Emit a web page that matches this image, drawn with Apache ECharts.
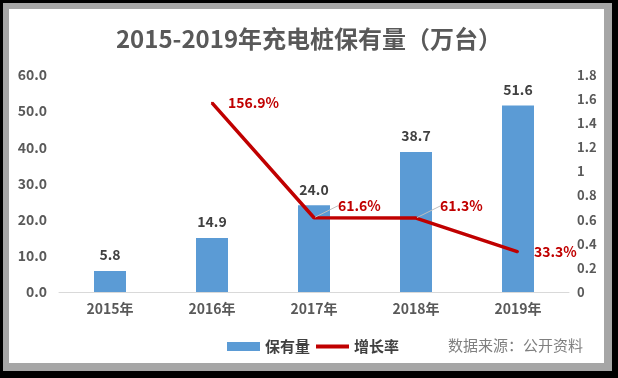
<!DOCTYPE html>
<html><head><meta charset="utf-8">
<script src="https://cdn.jsdelivr.net/npm/echarts@6/dist/echarts.min.js"></script>
<style>html,body{margin:0;padding:0;background:#000;}#c{width:618px;height:378px;}</style>
</head><body><div id="c"></div>
<script>
const years = ['2015年','2016年','2017年','2018年','2019年'];
const stock = [5.8, 14.9, 24.0, 38.7, 51.6];
const growth = [null, 1.569, 0.616, 0.613, 0.333];
const titleText = '2015-2019年充电桩保有量（万台）';
const sourceText = '数据来源：公开资料';

const font = '"Noto Sans CJK SC", "Noto Sans", sans-serif';
const leaderIdx = [2, 3];
const growthData = growth.map((v, i) =>
  leaderIdx.includes(i) ? {value: v} : {value: v, labelLine: {show: false}});

const chart = echarts.init(document.getElementById('c'), null, {renderer:'canvas'});
chart.setOption({
  backgroundColor: '#000',
  animation: false,
  graphic: [
    {type:'rect', shape:{x:3,y:3,width:609,height:368}, style:{fill:'#a6a6a6'}, z:-10},
    {type:'rect', shape:{x:9,y:9,width:595,height:354}, style:{fill:'#fff'}, z:-9},
    {type:'text', left:448, top:338, style:{text:sourceText, fill:'#7f7f7f', font:'15px ' + font}}
  ],
  title: {
    text: titleText, left: 'center', top: 22,
    textStyle: {fontFamily: font, fontSize: 24, fontWeight: 'bold', color: '#595959'}
  },
  legend: {
    left: 222, top: 334, itemGap: 6, itemWidth: 33, itemHeight: 9,
    textStyle: {fontFamily: font, fontSize: 15, fontWeight: 'bold', color: '#404040'},
    data: [
      {name:'保有量', icon:'rect'},
      {name:'增长率', icon:'path://M0,0 L33,0 L33,4 L0,4 Z'}
    ]
  },
  grid: {left: 59, right: 49, top: 75, bottom: 86},
  xAxis: {
    type: 'category', data: years,
    axisLine: {lineStyle: {color: '#d9d9d9'}},
    axisTick: {show: false},
    axisLabel: {fontFamily: font, fontSize: 14, fontWeight: 'bold', color: '#595959', margin: 10}
  },
  yAxis: [
    {type:'value', min:0, max:60, interval:10, splitLine:{show:false},
     axisLabel:{formatter: v => v.toFixed(1), fontFamily: font, fontSize: 14, fontWeight:'bold', color:'#595959', margin: 12}},
    {type:'value', min:0, max:1.8, interval:0.2, splitLine:{show:false},
     axisLabel:{formatter: v => String(Math.round(v*10)/10), fontFamily: font, fontSize: 13, fontWeight:'bold', color:'#595959', margin: 8}}
  ],
  series: [
    {
      name: '保有量', type: 'bar', data: stock, barWidth: 32, yAxisIndex: 0,
      itemStyle: {color: '#5b9bd5'},
      label: {show:true, position:'top', distance: 9, formatter: p => p.value.toFixed(1),
        fontFamily: font, fontSize: 14, fontWeight:'bold', color:'#404040'}
    },
    {
      name: '增长率', type: 'line', data: growthData, yAxisIndex: 1,
      symbol: 'circle', symbolSize: 2, lineStyle: {color: '#c00000', width: 3.5}, itemStyle: {color:'#c00000'},
      label: {show:true, position:'right', distance: 15,
        formatter: p => (p.value*100).toFixed(1) + '%',
        fontFamily: font, fontSize: 14, fontWeight:'bold', color:'#c00000'},
      labelLine: {show: true, lineStyle: {color:'#bfbfbf', width: 1}},
      labelLayout: function(p) {
        if (leaderIdx.includes(p.dataIndex)) return {dx: 8, dy: -12};
        return {};
      }
    }
  ]
});
</script></body></html>
